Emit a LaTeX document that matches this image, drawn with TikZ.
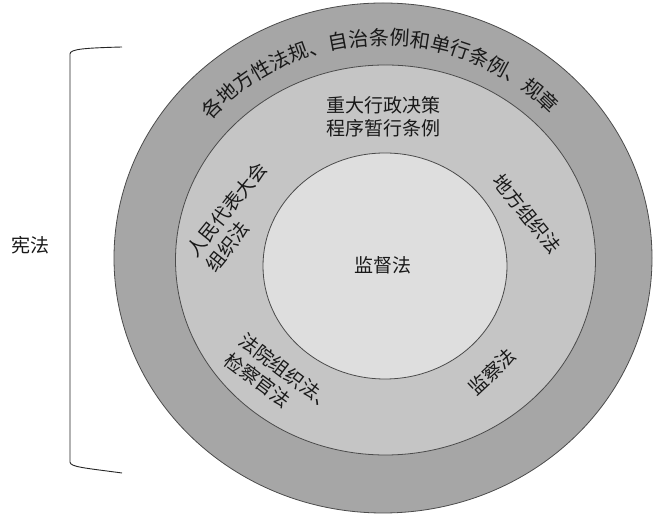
\documentclass[tikz,border=0pt]{standalone}
\usepackage{fontspec}
\newfontfamily\cjk{Noto Sans CJK SC}
\usetikzlibrary{decorations.text}
\definecolor{ringout}{RGB}{166,166,166}
\definecolor{ringmid}{RGB}{197,197,197}
\definecolor{ringin}{RGB}{222,222,222}
\definecolor{edgegray}{RGB}{75,75,75}
\definecolor{txt}{RGB}{25,25,25}
\begin{document}
\begin{tikzpicture}[x=1pt,y=1pt,
  ring/.style={draw=edgegray, line width=0.8pt},
  lbl/.style={font=\cjk\fontsize{19}{24}\selectfont, text=txt, inner sep=0pt, align=left},
  clbl/.style={font=\cjk\fontsize{19}{23}\selectfont, text=txt, inner sep=0pt, align=center},
  bracketline/.style={draw=black!85, line width=0.9pt}]
\useasboundingbox (0,0) rectangle (654,516);
\fill[white] (0,0) rectangle (654,516);
% rings
\draw[ring, fill=ringout] (383,258) ellipse[x radius=269, y radius=255];
\draw[ring, fill=ringmid] (385.5,256) ellipse[x radius=210, y radius=195];
\draw[ring, fill=ringin] (385,250) ellipse[x radius=122, y radius=113];
% curved outer text
\path[decorate, decoration={text along path, text align=center,
  text={|\cjk\fontsize{20}{20}\selectfont\color{txt}|各地方性法规、自治条例和单行条例、规章}}]
  (383,258) ++(160:226 and 213) arc[start angle=160, end angle=22, x radius=226, y radius=213];
% labels
\node[clbl] (center) at (383,251) {监督法};
\node[clbl] (major) at (383,399) {重大行政决策\\程序暂行条例};
\node[lbl, rotate=51] (npc) at (236,299) {人民代表大会\\组织法};
\node[lbl, rotate=-51] (local) at (527,302) {地方组织法};
\node[lbl, rotate=-37] (court) at (280,134) {法院组织法、\\检察官法};
\node[lbl, rotate=43] (superv) at (492,144) {监察法};
\node[clbl] (constitution) at (31,271) {宪法};
% bracket
\draw[bracketline] (122,469) .. controls (85,468) and (70,467) .. (70,462) -- (70,54) .. controls (70,49) and (85,48) .. (122,43);
\end{tikzpicture}
\end{document}
